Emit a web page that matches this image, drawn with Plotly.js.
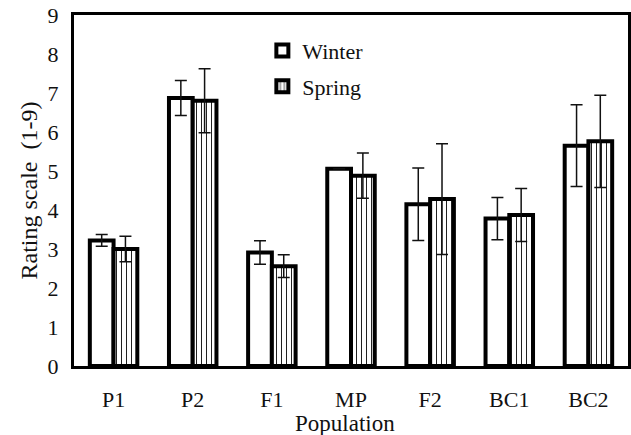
<!DOCTYPE html>
<html>
<head>
<meta charset="utf-8">
<script src="https://cdn.plot.ly/plotly-3.0.1.min.js"></script>
<style>html,body{margin:0;padding:0;background:#fff;}#chart{width:631px;height:435px;}</style>
</head>
<body>
<div id="chart"></div>
<script>
const categories = ["P1", "P2", "F1", "MP", "F2", "BC1", "BC2"];
const winterValues = [3.22, 6.87, 2.91, 5.06, 4.15, 3.78, 5.65];
const winterErrors = [0.15, 0.45, 0.30, 0.00, 0.93, 0.54, 1.05];
const springValues = [3.00, 6.80, 2.56, 4.88, 4.28, 3.87, 5.76];
const springErrors = [0.33, 0.82, 0.29, 0.58, 1.42, 0.68, 1.18];
const yTicks = [0, 1, 2, 3, 4, 5, 6, 7, 8, 9];
const xTitle = "Population";
const yTitle = "Rating scale &nbsp;(1-9)";

const FONT = "Liberation Serif, Times New Roman, serif";

const traces = [
  {
    type: "bar",
    name: "Winter",
    legendgroup: "w",
    x: categories,
    y: winterValues,
    error_y: {type: "data", array: winterErrors, visible: true, color: "#111", thickness: 1.5, width: 6},
    marker: {color: "#ffffff", line: {color: "#000", width: 4}}
  },
  {
    type: "bar",
    name: "Spring",
    legendgroup: "s",
    x: categories,
    y: springValues,
    error_y: {type: "data", array: springErrors, visible: true, color: "#111", thickness: 1.5, width: 6},
    marker: {color: "#ffffff", line: {color: "#000", width: 4},
             pattern: {shape: "|", fgcolor: "#222", bgcolor: "#ffffff", size: 5, solidity: 0.2}}
  }
];

const layout = {
  width: 631,
  height: 435,
  margin: {l: 74, r: 3, t: 15, b: 69},
  paper_bgcolor: "#fff",
  plot_bgcolor: "#fff",
  font: {family: FONT, color: "#111", size: 22},
  barmode: "group",
  bargap: 0.4,
  bargroupgap: 0,
  showlegend: true,
  legend: {
    x: 0.34, y: 0.958, xanchor: "left", yanchor: "top",
    font: {family: FONT, size: 22, color: "#111"},
    bgcolor: "rgba(0,0,0,0)",
    tracegroupgap: 4,
    traceorder: "grouped"
  },
  xaxis: {
    showline: true, linecolor: "#000", linewidth: 3, mirror: true,
    ticks: "", showgrid: false, zeroline: false,
    ticklabelstandoff: 12,
    tickfont: {family: FONT, size: 22, color: "#111"}
  },
  yaxis: {
    range: [0, 9],
    tickvals: yTicks,
    showline: true, linecolor: "#000", linewidth: 3, mirror: true,
    ticks: "", showgrid: false, zeroline: false,
    ticklabelstandoff: 8,
    tickfont: {family: FONT, size: 22, color: "#111"},
    title: {text: yTitle, font: {family: FONT, size: 24, color: "#111"}, standoff: 4}
  },
  annotations: [{
    text: xTitle, xref: "paper", yref: "paper", x: 0.49, y: -0.165,
    xanchor: "center", yanchor: "middle", showarrow: false,
    font: {family: FONT, size: 23, color: "#111"}
  }]
};

Plotly.newPlot("chart", traces, layout, {displayModeBar: false, staticPlot: true});
</script>
</body>
</html>
